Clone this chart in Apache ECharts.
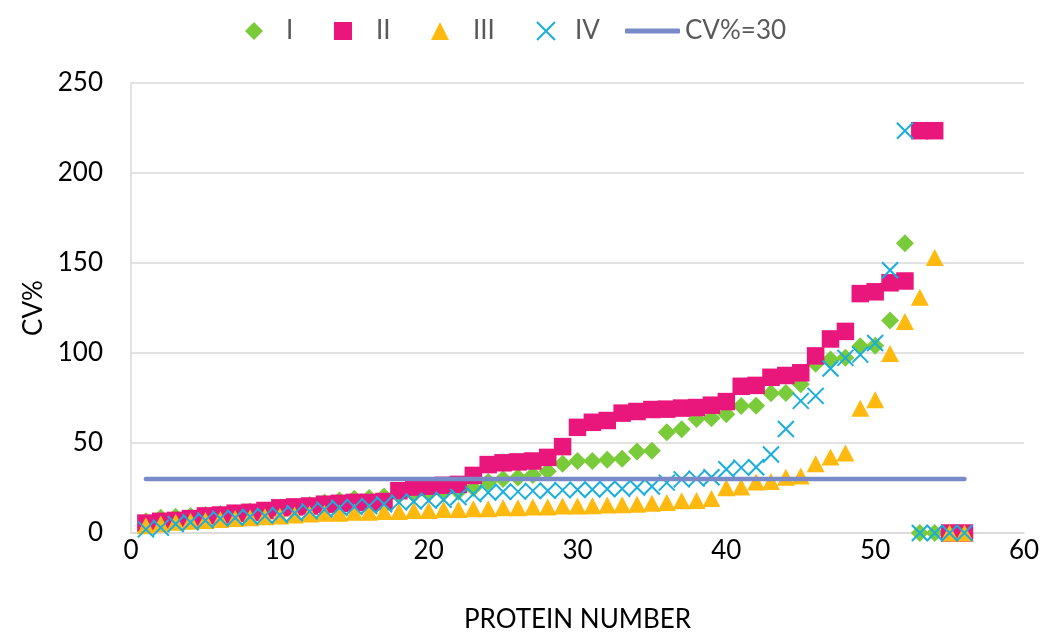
<!DOCTYPE html>
<html>
<head>
<meta charset="utf-8">
<script src="https://cdn.jsdelivr.net/npm/echarts@6/dist/echarts.min.js"></script>
<style>
html,body{margin:0;padding:0;background:#fff;}
#chart{width:1046px;height:638px;}
</style>
</head>
<body>
<div id="chart"></div>
<script>
// Protein numbers (x)
const proteinNo = [1,2,3,4,5,6,7,8,9,10,11,12,13,14,15,16,17,18,19,20,21,22,23,24,25,26,27,28,29,30,31,32,33,34,35,36,37,38,39,40,41,42,43,44,45,46,47,48,49,50,51,52,53,54,55,56];
// CV% per group
const cvI = [6.5,8.5,9,9.5,10,10.5,11,12,12.5,13,14,15.5,17,18,19,19.5,20.3,21,21.5,22,22.5,23,25,28.4,30,30.8,32.2,34.3,38.5,40,40,40.7,41.3,45.3,45.7,56,57.6,63.3,63.8,66,70.5,70.7,77.6,77.8,82.6,94,96.4,97.3,103.8,104,118,161,0,0,0,0];
const cvII = [5.5,6.5,7,8,9.5,10,11,11.5,12.5,14,14.5,15,16,16.5,17,17,17.5,23.5,25.5,26,26.5,27,32,38,39,39.5,40,42,48,58.7,61.5,62.5,66.6,67.5,68.6,68.8,69.4,69.7,71,73,81.5,82,86.5,87.5,89,98.4,107.8,112,133,134,139,140,223.5,223.5,0,0];
const cvIII = [4,5,6,6.5,7,7.5,8,8.5,9,9.5,10,10.5,11,11,11.5,11.5,12,12,12.5,12.5,13,13,13.5,13.5,14,14,14.5,14.5,15,15,15.2,15.5,15.7,16,16.5,17,17.9,18,19.2,25.2,25.5,28.4,28.6,31,31.7,38.5,42.2,44.5,69.3,74,99.7,117.5,131,153,0,0];
const cvIV = [2,3,5,6,7,8,8.5,9,9.5,10,11,12,13,14,14.5,15,16,17,17.5,18,18.5,20,21.6,22.5,22.9,23,23.4,23.5,23.8,24,24.2,24.4,24.6,25.3,25.8,28,29.8,30.2,31,35.4,36.3,36.5,43.6,57.8,73.4,76.2,91.4,97.3,99.1,105.6,146,223.5,0,0,0,0];
// Threshold line
const thresholdX = [1, 56];
const thresholdY = [30, 30];
const seriesNames = ['I','II','III','IV','CV%=30'];
const xTicks = {min:0, max:60, interval:10};
const yTicks = {min:0, max:250, interval:50};

const FONT = 'Lato, "Open Sans", sans-serif';
const colors = ['#7ACB3A','#E9177B','#FFB90F','#19AEDC','#7A8AC8'];
const pair = (ys) => proteinNo.map((x,i)=>[x, ys[i]]);

const chart = echarts.init(document.getElementById('chart'), null, {renderer:'canvas'});

const LEG_TOP = 13;
function scatterLegend(name, left, pad){
  return {
    data:[name], left:left, top:LEG_TOP, itemWidth:18, itemHeight:18, padding:5,
    textStyle:{fontFamily:FONT, fontSize:26, color:'#595959', padding:[0,0,0,pad]}
  };
}

chart.setOption({
  animation:false,
  backgroundColor:'#fff',
  legend:[
    scatterLegend('I', 240, 18),
    scatterLegend('II', 329, 19),
    scatterLegend('III', 426, 19),
    scatterLegend('IV', 531, 15),
    {data:[{name:'CV%=30', icon:'roundRect'}], left:620, top:LEG_TOP, itemWidth:55, itemHeight:5, padding:5,
     textStyle:{fontFamily:FONT, fontSize:26, color:'#595959'}}
  ],
  grid:{left:131, right:22, top:83, bottom:101.5, containLabel:false},
  xAxis:{
    type:'value', min:xTicks.min, max:xTicks.max, interval:xTicks.interval,
    name:'PROTEIN NUMBER', nameLocation:'middle', nameGap:74,
    nameTextStyle:{fontFamily:FONT, fontSize:26, color:'#000'},
    axisLine:{show:true, lineStyle:{color:'#d9d9d9', width:1.5}},
    axisTick:{show:false},
    splitLine:{show:false},
    axisLabel:{fontFamily:FONT, fontSize:26, color:'#000', margin:5}
  },
  yAxis:{
    type:'value', min:yTicks.min, max:yTicks.max, interval:yTicks.interval,
    name:'CV%', nameLocation:'middle', nameGap:81, nameRotate:90,
    nameTextStyle:{fontFamily:FONT, fontSize:26, color:'#000'},
    axisLine:{show:true, lineStyle:{color:'#d9d9d9', width:1.5}},
    axisTick:{show:false},
    splitLine:{show:true, lineStyle:{color:'#d9d9d9', width:1.5}},
    axisLabel:{fontFamily:FONT, fontSize:26, color:'#000', margin:28}
  },
  series:[
    {name:seriesNames[0], type:'scatter', symbol:'diamond', symbolSize:18,
     itemStyle:{color:colors[0], opacity:1}, data:pair(cvI)},
    {name:seriesNames[1], type:'scatter', symbol:'rect', symbolSize:17.5,
     itemStyle:{color:colors[1], opacity:1}, data:pair(cvII)},
    {name:seriesNames[2], type:'scatter', symbol:'triangle', symbolSize:[18,17],
     itemStyle:{color:colors[2], opacity:1}, data:pair(cvIII)},
    {name:seriesNames[3], type:'scatter', symbol:'path://M0,0L10,10M10,0L0,10', symbolSize:16,
     itemStyle:{color:'rgba(0,0,0,0)', borderColor:colors[3], borderWidth:2, opacity:1}, data:pair(cvIV)},
    {name:seriesNames[4], type:'line', symbol:'none', showSymbol:false,
     lineStyle:{color:colors[4], width:4.5, cap:'round'}, itemStyle:{color:colors[4]},
     data:thresholdX.map((x,i)=>[x, thresholdY[i]])}
  ]
});
</script>
</body>
</html>
